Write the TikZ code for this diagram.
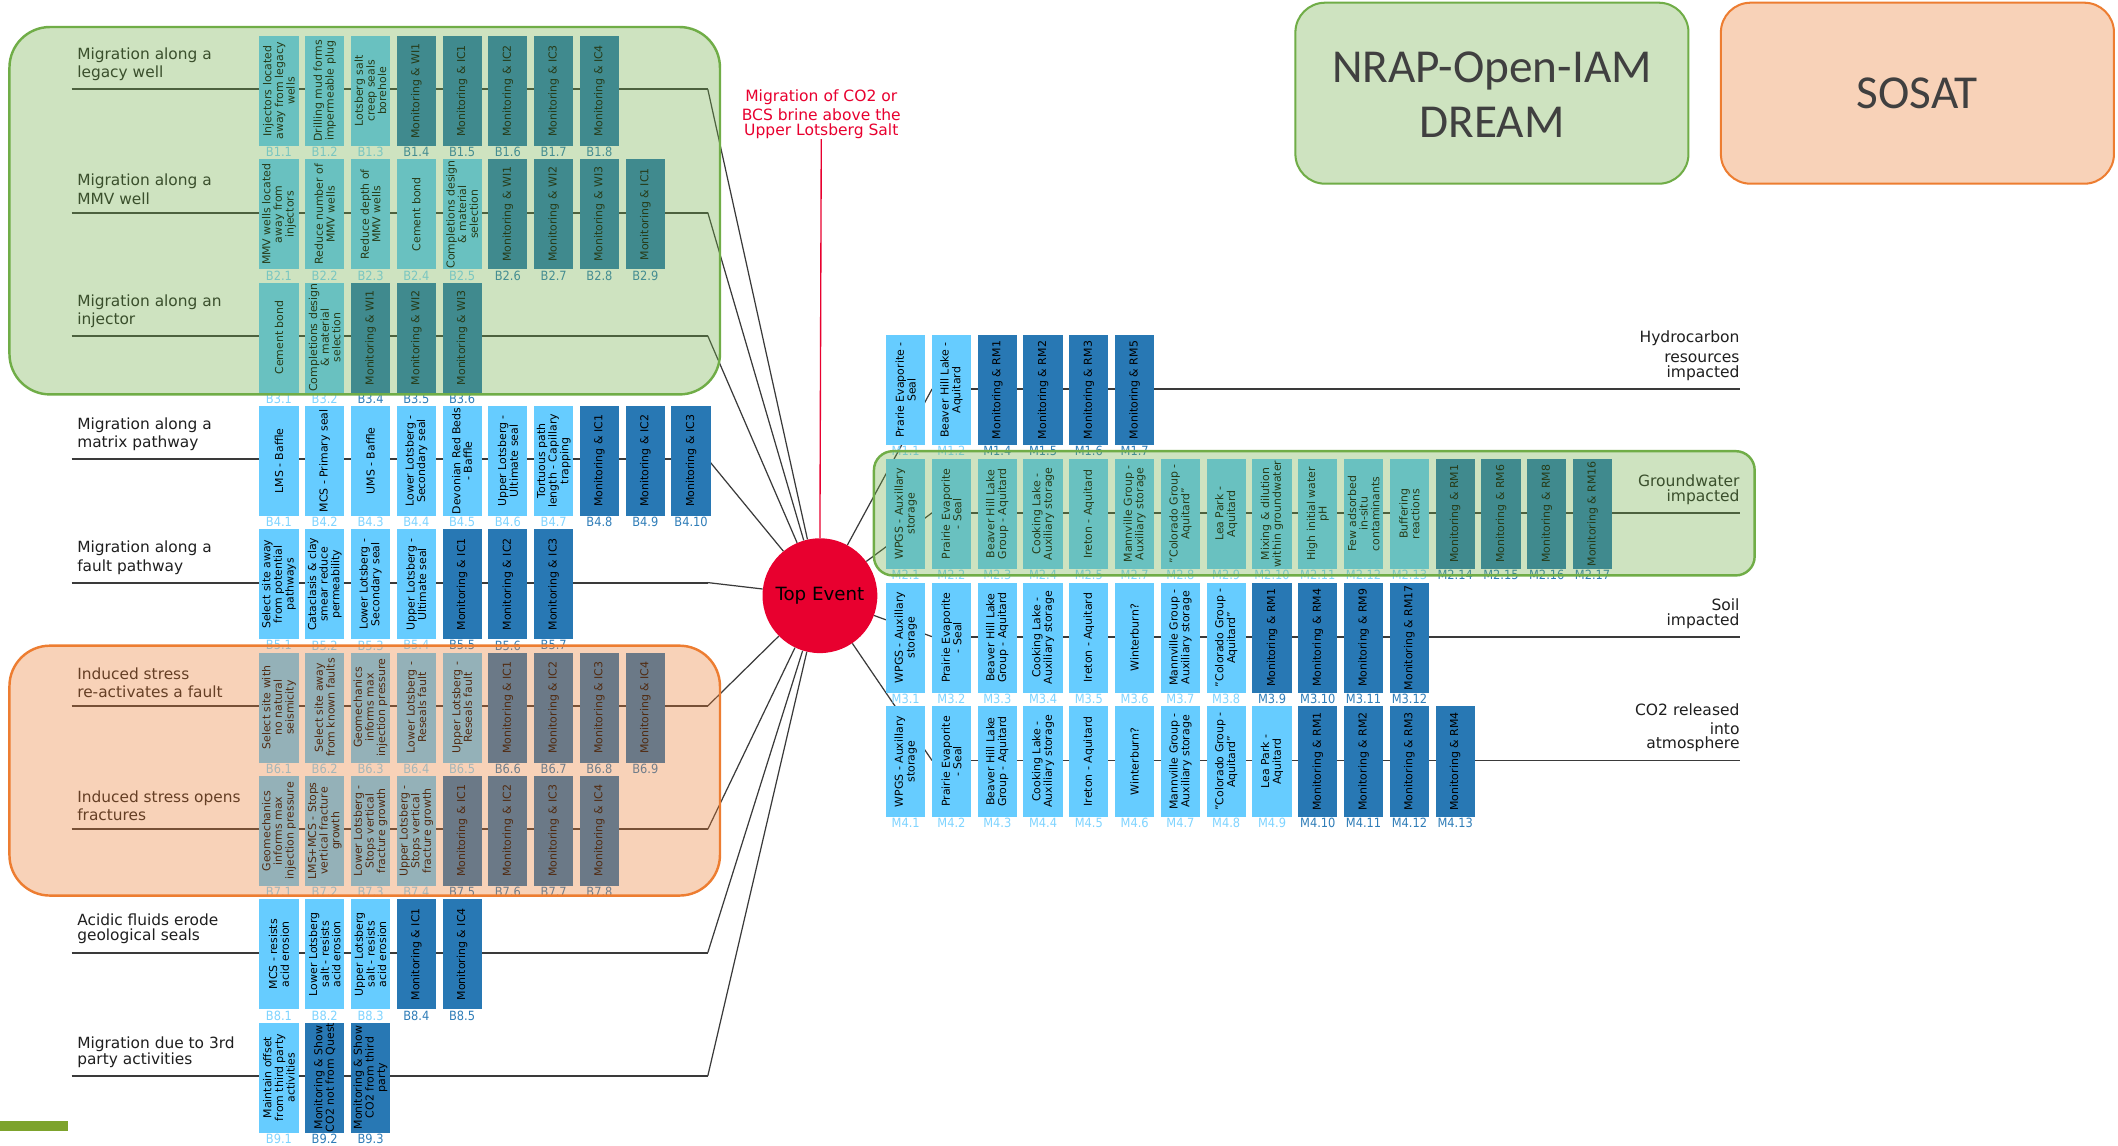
\documentclass[tikz,border=0pt]{standalone}
\usepackage{fontspec}
\usetikzlibrary{calc}
\setmainfont{DejaVu Sans}
\newfontfamily\calfont{Carlito}
\newfontfamily\idfont[FakeStretch=0.9]{DejaVu Sans}

\definecolor{boxL}{HTML}{66CCFF}
\definecolor{boxD}{HTML}{2878B4}
\definecolor{labL}{HTML}{7FD4FF}
\definecolor{labD}{HTML}{2F7DB8}
\definecolor{grn}{HTML}{70AD47}
\definecolor{org}{HTML}{ED7D31}
\definecolor{topred}{HTML}{E8002F}
\definecolor{ink}{HTML}{3A3A3A}
\definecolor{toolink}{HTML}{404040}
\definecolor{barolive}{HTML}{7DA32C}

\tikzset{
  bx/.style={rectangle, fill=box#1, rotate=90, minimum width=81.5pt,
    minimum height=29pt, inner sep=0pt, align=center,
    font=\fontsize{8.1}{8.6}\selectfont, text=black},
  bid/.style={text=lab#1, inner sep=0pt, anchor=north,
    font=\idfont\fontsize{9.4}{9.4}\selectfont},
  rowline/.style={draw=ink, line width=1.4pt},
  conn/.style={draw=ink, line width=0.9pt},
  cause/.style={anchor=south west, align=left, inner sep=0pt,
    font=\fontsize{11.4}{13.5}\selectfont, text=black!88},
  effect/.style={anchor=south east, align=right, inner sep=0pt,
    font=\fontsize{11.5}{11}\selectfont, text=black!88},
  zone/.style={draw=#1, line width=1.8pt, fill=#1, fill opacity=0.34},
  toolbox/.style={draw=#1, line width=1.5pt, fill=#1, fill opacity=0.34,
    rounded corners=22pt},
  tooltext/.style={text=toolink, align=center,
    font=\calfont\fontsize{35}{41}\selectfont},
}

% one row of barriers: name, left x, top y, {kind/text/id,...}
\newcommand{\ctlrow}[4]{%
  \foreach \kind/\txt/\lab [count=\k] in {#4} {
    \pgfmathsetmacro{\cx}{#2+(\k-1)*33.9+14.5}
    \node[bx=\kind] (#1-\k) at (\cx, #3+40.75) {\txt};
    \node[bid=\kind] (#1-\k-id) at (\cx, #3+82.3) {\lab};
  }%
}

\begin{document}
\begin{tikzpicture}[x=1pt, y=-1pt]
\useasboundingbox (0,0) rectangle (1568,848);
\fill[white] (0,0) rectangle (1568,848);

% top event and its description
\node[circle, fill=topred, minimum size=85pt, inner sep=0pt,
      font=\fontsize{13.5}{13.5}\selectfont] (top) at (607,441) {Top Event};
\node[anchor=south, align=center, inner sep=0pt, text=topred,
      font=\fontsize{11.5}{11.5}\selectfont] (ttl) at (608,103)
  {Migration of CO2 or\\[2.5pt]BCS brine above the\\Upper Lotsberg Salt};
\draw[topred, line width=1pt] (ttl.south) -- (top.north);

% threat lines (left) and consequence lines (right)
\foreach \i in {1,...,9} {
  \pgfmathsetmacro{\ly}{26.6+91.3*(\i-1)+39.5}
  \coordinate (b\i s) at (53,\ly);
  \coordinate (b\i e) at (524,\ly);
  \draw[rowline] (b\i s) -- (b\i e);
  \draw[conn] (b\i e) -- (top);
}
\foreach \i in {1,...,4} {
  \pgfmathsetmacro{\ly}{248+91.67*(\i-1)+40}
  \coordinate (m\i s) at (690,\ly);
  \coordinate (m\i e) at (1288,\ly);
  \draw[conn] (top) -- (m\i s);
  \draw[rowline] (m\i s) -- (m\i e);
}

% prevention barriers
\ctlrow{b1}{192}{26.6}{L/{Injectors located\\away from legacy\\wells}/B1.1,
  L/{Drilling mud forms\\impermeable plug}/B1.2,
  L/{Lotsberg salt\\creep seals\\borehole}/B1.3,
  D/{Monitoring \& WI1}/B1.4,
  D/{Monitoring \& IC1}/B1.5,
  D/{Monitoring \& IC2}/B1.6,
  D/{Monitoring \& IC3}/B1.7,
  D/{Monitoring \& IC4}/B1.8}
\ctlrow{b2}{192}{117.9}{L/{MMV wells located\\away from\\injectors}/B2.1,
  L/{Reduce number of\\MMV wells}/B2.2,
  L/{Reduce depth of\\MMV wells}/B2.3,
  L/{Cement bond}/B2.4,
  L/{Completions design\\\& material\\selection}/B2.5,
  D/{Monitoring \& WI1}/B2.6,
  D/{Monitoring \& WI2}/B2.7,
  D/{Monitoring \& WI3}/B2.8,
  D/{Monitoring \& IC1}/B2.9}
\ctlrow{b3}{192}{209.2}{L/{Cement bond}/B3.1,
  L/{Completions design\\\& material\\selection}/B3.2,
  D/{Monitoring \& WI1}/B3.4,
  D/{Monitoring \& WI2}/B3.5,
  D/{Monitoring \& WI3}/B3.6}
\ctlrow{b4}{192}{300.5}{L/{LMS - Baffle}/B4.1,
  L/{MCS - Primary seal}/B4.2,
  L/{UMS - Baffle}/B4.3,
  L/{Lower Lotsberg -\\Secondary seal}/B4.4,
  L/{Devonian Red Beds\\- Baffle}/B4.5,
  L/{Upper Lotsberg -\\Ultimate seal}/B4.6,
  L/{Tortuous path\\length - Capillary\\trapping}/B4.7,
  D/{Monitoring \& IC1}/B4.8,
  D/{Monitoring \& IC2}/B4.9,
  D/{Monitoring \& IC3}/B4.10}
\ctlrow{b5}{192}{391.8}{L/{Select site away\\from potential\\pathways}/B5.1,
  L/{Cataclasis \& clay\\smear reduce\\permeability}/B5.2,
  L/{Lower Lotsberg -\\Secondary seal}/B5.3,
  L/{Upper Lotsberg -\\Ultimate seal}/B5.4,
  D/{Monitoring \& IC1}/B5.5,
  D/{Monitoring \& IC2}/B5.6,
  D/{Monitoring \& IC3}/B5.7}
\ctlrow{b6}{192}{483.1}{L/{Select site with\\no natural\\seismicity}/B6.1,
  L/{Select site away\\from known faults}/B6.2,
  L/{Geomechanics\\informs max\\injection pressure}/B6.3,
  L/{Lower Lotsberg -\\Reseals fault}/B6.4,
  L/{Upper Lotsberg -\\Reseals fault}/B6.5,
  D/{Monitoring \& IC1}/B6.6,
  D/{Monitoring \& IC2}/B6.7,
  D/{Monitoring \& IC3}/B6.8,
  D/{Monitoring \& IC4}/B6.9}
\ctlrow{b7}{192}{574.4}{L/{Geomechanics\\informs max\\injection pressure}/B7.1,
  L/{LMS+MCS - Stops\\vertical fracture\\growth}/B7.2,
  L/{Lower Lotsberg -\\Stops vertical\\fracture growth}/B7.3,
  L/{Upper Lotsberg -\\Stops vertical\\fracture growth}/B7.4,
  D/{Monitoring \& IC1}/B7.5,
  D/{Monitoring \& IC2}/B7.6,
  D/{Monitoring \& IC3}/B7.7,
  D/{Monitoring \& IC4}/B7.8}
\ctlrow{b8}{192}{665.7}{L/{MCS -  resists\\acid erosion}/B8.1,
  L/{Lower Lotsberg\\salt - resists\\acid erosion}/B8.2,
  L/{Upper Lotsberg\\salt - resists\\acid erosion}/B8.3,
  D/{Monitoring \& IC1}/B8.4,
  D/{Monitoring \& IC4}/B8.5}
\ctlrow{b9}{192}{757}{L/{Maintain offset\\from third party\\activities}/B9.1,
  D/{Monitoring \& Show\\CO2 not from Quest}/B9.2,
  D/{Monitoring \& Show\\CO2 from third\\party}/B9.3}

% mitigation barriers
\ctlrow{m1}{656}{248}{L/{Prarie Evaporite -\\Seal}/M1.1,
  L/{Beaver Hill Lake -\\Aquitard}/M1.2,
  D/{Monitoring \& RM1}/M1.4,
  D/{Monitoring \& RM2}/M1.5,
  D/{Monitoring \& RM3}/M1.6,
  D/{Monitoring \& RM5}/M1.7}
\ctlrow{m2}{656}{339.7}{L/{WPGS - Auxillary\\storage}/M2.1,
  L/{Prairie Evaporite\\- Seal}/M2.2,
  L/{Beaver Hill Lake\\Group - Aquitard}/M2.3,
  L/{Cooking Lake -\\Auxiliary storage}/M2.4,
  L/{Ireton - Aquitard}/M2.5,
  L/{Mannville Group -\\Auxiliary storage}/M2.7,
  L/{"Colorado Group -\\Aquitard"}/M2.8,
  L/{Lea Park -\\Aquitard}/M2.9,
  L/{Mixing \& dilution\\within groundwater}/M2.10,
  L/{High initial water\\pH}/M2.11,
  L/{Few adsorbed\\in-situ\\contaminants}/M2.12,
  L/{Buffering\\reactions}/M2.13,
  D/{Monitoring \& RM1}/M2.14,
  D/{Monitoring \& RM6}/M2.15,
  D/{Monitoring \& RM8}/M2.16,
  D/{Monitoring \& RM16}/M2.17}
\ctlrow{m3}{656}{431.3}{L/{WPGS - Auxillary\\storage}/M3.1,
  L/{Prairie Evaporite\\- Seal}/M3.2,
  L/{Beaver Hill Lake\\Group - Aquitard}/M3.3,
  L/{Cooking Lake -\\Auxiliary storage}/M3.4,
  L/{Ireton - Aquitard}/M3.5,
  L/{Winterburn?}/M3.6,
  L/{Mannville Group -\\Auxiliary storage}/M3.7,
  L/{"Colorado Group -\\Aquitard"}/M3.8,
  D/{Monitoring \& RM1}/M3.9,
  D/{Monitoring \& RM4}/M3.10,
  D/{Monitoring \& RM9}/M3.11,
  D/{Monitoring \& RM17}/M3.12}
\ctlrow{m4}{656}{523}{L/{WPGS - Auxillary\\storage}/M4.1,
  L/{Prairie Evaporite\\- Seal}/M4.2,
  L/{Beaver Hill Lake\\Group - Aquitard}/M4.3,
  L/{Cooking Lake -\\Auxiliary storage}/M4.4,
  L/{Ireton - Aquitard}/M4.5,
  L/{Winterburn?}/M4.6,
  L/{Mannville Group -\\Auxiliary storage}/M4.7,
  L/{"Colorado Group -\\Aquitard"}/M4.8,
  L/{Lea Park -\\Aquitard}/M4.9,
  D/{Monitoring \& RM1}/M4.10,
  D/{Monitoring \& RM2}/M4.11,
  D/{Monitoring \& RM3}/M4.12,
  D/{Monitoring \& RM4}/M4.13}

% threat descriptions
\node[cause] (c1) at ($(b1s)+(4,-6)$) {Migration along a\\legacy well};
\node[cause] (c2) at ($(b2s)+(4,-6)$) {Migration along a\\MMV well};
\node[cause] (c3) at ($(b3s)+(4,-6)$) {Migration along an\\injector};
\node[cause] (c4) at ($(b4s)+(4,-6)$) {Migration along a\\matrix pathway};
\node[cause] (c5) at ($(b5s)+(4,-6)$) {Migration along a\\fault pathway};
\node[cause] (c6) at ($(b6s)+(4,-6)$) {Induced stress\\re-activates a fault};
\node[cause] (c7) at ($(b7s)+(4,-6)$) {Induced stress opens\\fractures};
\node[cause, font=\fontsize{11.4}{11.5}\selectfont] (c8) at ($(b8s)+(4,-6)$) {Acidic fluids erode\\geological seals};
\node[cause, font=\fontsize{11.4}{12}\selectfont] (c9) at ($(b9s)+(4,-6)$) {Migration due to 3rd\\party activities};

% consequence descriptions
\node[effect] (e1) at ($(m1e)+(0,-6)$) {Hydrocarbon\\[4pt]resources\\impacted};
\node[effect] (e2) at ($(m2e)+(0,-6)$) {Groundwater\\impacted};
\node[effect] (e3) at ($(m3e)+(0,-6)$) {Soil\\impacted};
\node[effect] (e4) at ($(m4e)+(0,-6)$) {CO2 released\\[2.5pt]into\\atmosphere};

% tool coverage zones
\draw[zone=grn, rounded corners=30pt] (7,20) rectangle (533,292);
\draw[zone=org, rounded corners=30pt] (7,478) rectangle (533,663);
\draw[zone=grn, rounded corners=14pt] (647,334) rectangle (1299,426);

% tool legend
\draw[toolbox=grn] (959,2) rectangle (1250,136);
\node[tooltext] (tool1) at (1104.5,70) {NRAP-Open-IAM\\DREAM};
\draw[toolbox=org] (1274,2) rectangle (1565,136);
\node[tooltext] (tool2) at (1419.5,69) {SOSAT};

\fill[barolive] (0,830) rectangle (50,837);
\end{tikzpicture}
\end{document}
